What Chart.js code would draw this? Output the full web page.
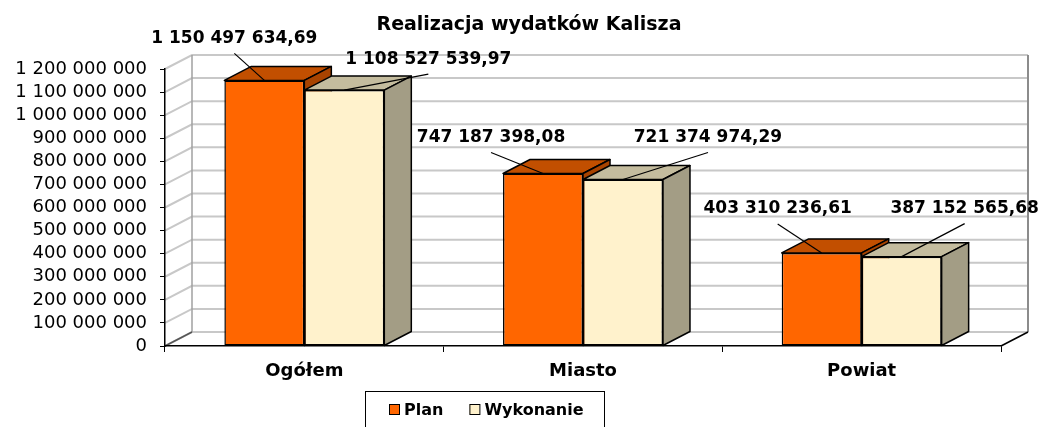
<!DOCTYPE html>
<html>
<head>
<meta charset="utf-8">
<title>Realizacja wydatków Kalisza</title>
<script src="https://cdn.jsdelivr.net/npm/chart.js@4.4.1/dist/chart.umd.min.js"></script>
<style>
  html, body { margin: 0; padding: 0; background: #fff; }
  #wrap { width: 1043px; height: 427px; position: relative; }
</style>
</head>
<body>
<div id="wrap"><canvas id="bar-chart"></canvas></div>
<script>
const chartTitle = 'Realizacja wydatków Kalisza'
const categories = ['Ogółem', 'Miasto', 'Powiat']
const seriesNames = ['Plan', 'Wykonanie']
const planValues = [1150497634.69, 747187398.08, 403310236.61]
const wykonanieValues = [1108527539.97, 721374974.29, 387152565.68]
const yMax = 1200000000
const yStep = 100000000

// front / top / side colour of each series (fake 3D like the Excel original)
const faces = [
    { front: '#ff6600', top: '#c24f00', side: '#a84300' },
    { front: '#fff2cc', top: '#c4bc9e', side: '#a39d85' },
]
// where the value labels were dragged to, relative to the top of each bar
const labelOffsets = [
    [[-30, -42], [-52, -36], [-44, -44]],
    [[84, -31], [85, -42], [63, -48]],
]
const depth = { x: 27, y: -14 }

Chart.defaults.font.family = '"DejaVu Sans", sans-serif'
Chart.defaults.color = '#000'

const spaced = (v, dec) => {
    const [i, d] = v.toFixed(dec).split('.')
    const s = i.replace(/\B(?=(\d{3})+(?!\d))/g, ' ')
    return d ? s + ',' + d : s
}

const line = (ctx, pts, color, width) => {
    ctx.beginPath()
    ctx.moveTo(pts[0][0], pts[0][1])
    for (let i = 1; i < pts.length; i++) ctx.lineTo(pts[i][0], pts[i][1])
    ctx.strokeStyle = color
    ctx.lineWidth = width
    ctx.stroke()
}

const poly = (ctx, pts, fill) => {
    ctx.beginPath()
    ctx.moveTo(pts[0][0], pts[0][1])
    for (let i = 1; i < pts.length; i++) ctx.lineTo(pts[i][0], pts[i][1])
    ctx.closePath()
    ctx.fillStyle = fill
    ctx.fill()
    ctx.strokeStyle = '#000'
    ctx.lineWidth = 1.5
    ctx.lineJoin = 'round'
    ctx.stroke()
}

const bar3d = {
    id: 'bar3d',
    beforeDraw(chart) {
        // back wall, left wall and floor
        const { ctx, chartArea: a, scales: { y } } = chart
        const dx = depth.x, dy = depth.y
        ctx.save()
        y.ticks.forEach(t => {
            const py = y.getPixelForValue(t.value)
            line(ctx, [[a.left, py], [a.left + dx, py + dy], [a.right + dx, py + dy]], '#c8c8c8', 2)
        })
        line(ctx, [[a.left + dx, a.top + dy], [a.left + dx, a.bottom + dy]], '#a0a0a0', 1.5)
        line(ctx, [[a.right + dx, a.top + dy], [a.right + dx, a.bottom + dy]], '#8c8c8c', 2)
        line(ctx, [[a.left, a.bottom], [a.left + dx, a.bottom + dy]], '#555', 1.5)
        line(ctx, [[a.right, a.bottom], [a.right + dx, a.bottom + dy]], '#000', 1.5)
        ctx.restore()
    },
    beforeDatasetsDraw(chart) {
        // chart.js paints the last dataset first, so the boxes are drawn here
        // left to right: top, side, then the bar itself as the front face
        const ctx = chart.ctx
        const dx = depth.x, dy = depth.y
        ctx.save()
        categories.forEach((c, j) => {
            chart.data.datasets.forEach((ds, i) => {
                const el = chart.getDatasetMeta(i).data[j]
                const f = faces[i]
                const { x, y, base, width } = el.getProps(['x', 'y', 'base', 'width'], true)
                const l = x - width / 2, r = x + width / 2
                poly(ctx, [[l, y], [r, y], [r + dx, y + dy], [l + dx, y + dy]], f.top)
                poly(ctx, [[r, y], [r + dx, y + dy], [r + dx, base + dy], [r, base]], f.side)
                el.draw(ctx, chart.chartArea)
            })
        })
        ctx.restore()
        return false
    },
    afterDraw(chart) {
        const ctx = chart.ctx
        ctx.save()
        ctx.fillStyle = '#000'
        ctx.textBaseline = 'middle'
        ctx.textAlign = 'center'

        ctx.font = 'bold 17px "DejaVu Sans"'
        chart.data.datasets.forEach((ds, i) => {
            chart.getDatasetMeta(i).data.forEach((el, j) => {
                const { x, y } = el.getProps(['x', 'y'], true)
                const lx = x + labelOffsets[i][j][0], ly = y + labelOffsets[i][j][1]
                line(ctx, [[lx, ly + 15], [x, y]], '#000', 1.2)
                ctx.fillText(spaced(ds.data[j], 2), lx, ly)
            })
        })

        ctx.font = 'bold 19px "DejaVu Sans"'
        ctx.fillText(chartTitle, 529, 25)

        // legend in a box, like Excel's
        ctx.strokeStyle = '#000'
        ctx.lineWidth = 1
        ctx.strokeRect(365.5, 391.5, 239, 50)
        ctx.font = 'bold 16px "DejaVu Sans"'
        ctx.textAlign = 'left'
        let lx = 389
        chart.data.datasets.forEach(ds => {
            ctx.fillStyle = ds.backgroundColor
            ctx.fillRect(lx, 404, 10, 10)
            ctx.strokeRect(lx + 0.5, 404.5, 10, 10)
            ctx.fillStyle = '#000'
            ctx.fillText(ds.label, lx + 15, 411)
            lx += 15 + ctx.measureText(ds.label).width + 26
        })
        ctx.restore()
    },
}

new Chart(document.getElementById('bar-chart'), {
    type: 'bar',
    plugins: [bar3d],
    data: {
        labels: categories,
        datasets: [{
            label: seriesNames[0],
            data: planValues,
            backgroundColor: faces[0].front,
            borderColor: '#000',
            borderWidth: 1.5,
            borderSkipped: false,
        }, {
            label: seriesNames[1],
            data: wykonanieValues,
            backgroundColor: faces[1].front,
            borderColor: '#000',
            borderWidth: 1.5,
            borderSkipped: false,
        }]
    },
    options: {
        responsive: true,
        maintainAspectRatio: false,
        animation: false,
        events: [],
        categoryPercentage: 0.574,
        barPercentage: 1,
        layout: {
            padding: { top: 69, right: 42, bottom: 0, left: 0 }
        },
        scales: {
            x: {
                afterFit: s => { s.height = 81 },
                grid: {
                    drawOnChartArea: false,
                    tickLength: 6,
                    color: '#000',
                },
                border: { color: '#000', width: 1.5 },
                ticks: {
                    font: { size: 18, weight: 'bold' },
                    padding: 9,
                },
            },
            y: {
                min: 0,
                max: yMax,
                afterFit: s => { s.width = 165 },
                grid: {
                    drawOnChartArea: false,
                    tickLength: 5,
                    color: '#000',
                },
                border: { color: '#000', width: 1.5 },
                ticks: {
                    stepSize: yStep,
                    autoSkip: false,
                    font: { size: 18 },
                    padding: 13,
                    callback: v => spaced(v, 0),
                },
            }
        },
        plugins: {
            legend: { display: false },
            tooltip: { enabled: false },
        }
    }
})
</script>
</body>
</html>
